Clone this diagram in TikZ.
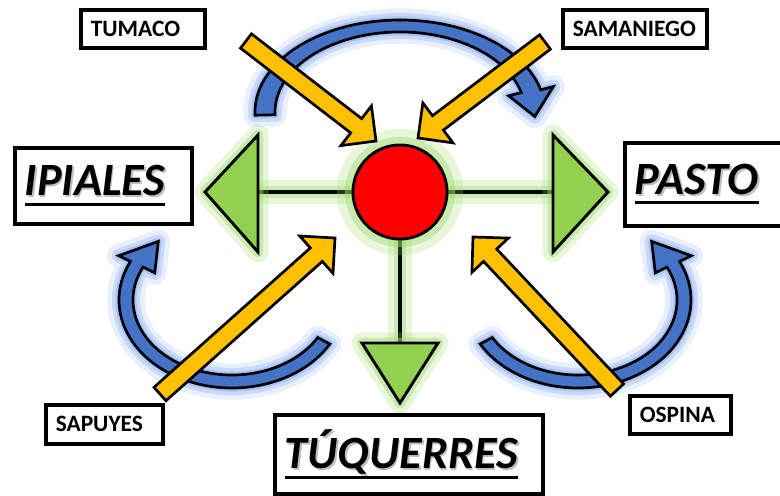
\documentclass[tikz,border=0pt]{standalone}
\usepackage{fontspec}
\setmainfont{Carlito}
\usetikzlibrary{calc}

\definecolor{hubred}{RGB}{255,0,0}
\definecolor{leafgreen}{RGB}{146,208,80}
\definecolor{flowyellow}{RGB}{255,192,0}
\definecolor{loopblue}{RGB}{68,114,196}
\definecolor{haloblue}{RGB}{140,175,245}
\definecolor{halogreen}{RGB}{165,220,115}

% underlined town name with a soft shadow
\newcommand{\bigtown}[1]{\sbox0{#1}%
  \rlap{\kern1.5pt\raisebox{-1.5pt}{\color{black!25}#1}}%
  \rlap{\rule[-8.5pt]{\wd0}{2.6pt}}\usebox0}

% straight block arrow from #1 to #2
\newcommand{\blockarrow}[2]{%
  \coordinate (neck) at ($(#2)!0.75cm!(#1)$);
  \draw[flowarrow] ($(#1)!0.27cm!90:(#2)$) -- ($(neck)!0.27cm!90:(#2)$)
    -- ($(neck)!0.75cm!90:(#2)$) -- (#2)
    -- ($(neck)!0.75cm!-90:(#2)$) -- ($(neck)!0.27cm!-90:(#2)$)
    -- ($(#1)!0.27cm!-90:(#2)$) -- cycle;}

% curved arrow round centre #1: outer radii #2 #3, inner radii #4 #5,
% tail angle #6, head base angle #7, tip angle #8
\newcommand{\looparrow}[8]{%
  \pgfmathsetmacro\wingox{#2+13}\pgfmathsetmacro\wingoy{#3+13}
  \pgfmathsetmacro\wingix{#4-13}\pgfmathsetmacro\wingiy{#5-13}
  \pgfmathsetmacro\midx{(#2+#4)/2}\pgfmathsetmacro\midy{(#3+#5)/2}
  \draw[bendloop] ($(#1)+(#6:#2 and #3)$)
    arc[start angle=#6, end angle=#7, x radius=#2, y radius=#3]
    -- ($(#1)+(#7:\wingox\space and \wingoy)$)
    -- ($(#1)+(#8:\midx\space and \midy)$)
    -- ($(#1)+(#7:\wingix\space and \wingiy)$)
    -- ($(#1)+(#7:#4 and #5)$)
    arc[start angle=#7, end angle=#6, x radius=#4, y radius=#5] -- cycle;}

\begin{document}
\begin{tikzpicture}[x=0.03cm, y=-0.03cm,
    town/.style = {draw, line width=3pt, fill=white, anchor=north west,
      align=left, inner xsep=0.3cm, inner ysep=0pt,
      font=\bfseries\fontsize{20}{22}\selectfont},
    capital/.style = {town, font=\bfseries\itshape\fontsize{39.5}{42}\selectfont},
    spoke/.style = {draw=black, line width=3pt,
      preaction={draw=halogreen, line width=20pt, opacity=.25},
      preaction={draw=halogreen, line width=11pt, opacity=.45}},
    leaf/.style = {fill=leafgreen, draw, line width=2.5pt, line join=miter,
      preaction={draw=halogreen, line width=18pt, opacity=.25, line join=round},
      preaction={draw=halogreen, line width=9pt, opacity=.45, line join=round}},
    hub/.style = {circle, fill=hubred, draw, line width=2.5pt,
      minimum size=2.82cm, inner sep=0pt,
      preaction={draw=halogreen, line width=28pt, opacity=.25},
      preaction={draw=halogreen, line width=14pt, opacity=.45}},
    flowarrow/.style = {fill=flowyellow, draw, line width=2.3pt, line join=miter},
    bendloop/.style = {fill=loopblue, draw, line width=2.3pt, line join=miter,
      preaction={draw=haloblue, line width=20pt, opacity=.2, line join=round},
      preaction={draw=haloblue, line width=12pt, opacity=.35, line join=round},
      preaction={draw=haloblue, line width=6pt, opacity=.5, line join=round}},
  ]
  \useasboundingbox (0,0) rectangle (780,495);

  % centre and spokes
  \coordinate (west) at (258,192);
  \coordinate (east) at (553,192);
  \coordinate (south) at (400,343);
  \draw[spoke] (355,192) -- (west);
  \draw[spoke] (445,192) -- (east);
  \draw[spoke] (400,235) -- (south);
  \draw[leaf] (258,135) -- (258,252) -- (205,192) -- cycle;
  \draw[leaf] (553,135) -- (553,252) -- (608,192) -- cycle;
  \draw[leaf] (362,343) -- (438,343) -- (400,403) -- cycle;
  \node[hub] (hub) at (400,192) {};

  % blue loops
  \coordinate (topc) at (400,112);
  \coordinate (leftc) at (232,300);
  \coordinate (rightc) at (578,300);
  \looparrow{topc}{145}{92}{125}{80}{-182}{-14}{3}
  \looparrow{leftc}{113}{88}{99}{75}{30}{206}{226}
  \looparrow{rightc}{113}{88}{99}{75}{150}{-26}{-46}

  % yellow arrows
  \coordinate (tumaco-tail) at (246,41);
  \coordinate (tumaco-tip) at (376,141);
  \coordinate (samaniego-tail) at (545,42);
  \coordinate (samaniego-tip) at (418,138);
  \coordinate (sapuyes-tail) at (160,394);
  \coordinate (sapuyes-tip) at (335,238);
  \coordinate (ospina-tail) at (617,390);
  \coordinate (ospina-tip) at (473,237);
  \blockarrow{tumaco-tail}{tumaco-tip}
  \blockarrow{samaniego-tail}{samaniego-tip}
  \blockarrow{sapuyes-tail}{sapuyes-tip}
  \blockarrow{ospina-tail}{ospina-tip}

  % town boxes
  \node[town, text width=3.12cm, minimum height=1.14cm] (tumaco) at (79,8) {TUMACO};
  \node[town, text width=3.72cm, minimum height=1.14cm] (samaniego) at (561,8) {SAMANIEGO};
  \node[town, text width=2.91cm, minimum height=1.17cm] (sapuyes) at (44,403) {SAPUYES};
  \node[town, text width=2.43cm, minimum height=1.14cm] (ospina) at (628,394) {OSPINA};
  \node[capital, text width=4.71cm, minimum height=2.28cm] (ipiales) at (13,146) {\bigtown{IPIALES}};
  \node[capital, text width=4.5cm, minimum height=2.49cm] (pasto) at (623,141) {\bigtown{PASTO}};
  \node[capital, text width=7.44cm, minimum height=2.37cm] (tuquerres) at (273,413) {\bigtown{TÚQUERRES}};
\end{tikzpicture}
\end{document}
